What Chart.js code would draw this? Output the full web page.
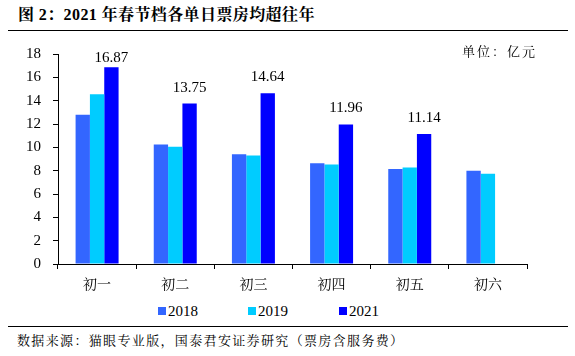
<!DOCTYPE html>
<html><head><meta charset="utf-8">
<script src="https://cdn.jsdelivr.net/npm/chart.js@4.4.1/dist/chart.umd.min.js"></script>
<style>
html,body{margin:0;padding:0;background:#fff;}
body{width:575px;height:356px;position:relative;overflow:hidden;font-family:'Liberation Serif','Noto Serif CJK SC',serif;color:#000;}
#title{position:absolute;left:18px;top:4px;font-size:16px;font-weight:bold;letter-spacing:0.4px;line-height:22px;white-space:nowrap;font-family:'Liberation Serif','Noto Serif CJK SC',serif;}
.hline{position:absolute;left:8px;width:560px;height:1px;background:#000;}
#unit{position:absolute;left:462px;top:42px;font-size:13px;letter-spacing:2px;line-height:18px;font-family:'Noto Serif CJK SC',serif;white-space:nowrap;}
#src{position:absolute;left:17px;top:331px;font-size:13px;letter-spacing:1.35px;line-height:18px;font-family:'Noto Serif CJK SC',serif;white-space:nowrap;}
#wrap{position:absolute;left:0;top:33px;width:575px;height:262px;}
.lg{position:absolute;top:302px;height:18px;line-height:18px;font-size:15px;white-space:nowrap;font-family:'Liberation Serif',serif;}
.lg i{position:absolute;left:0;top:5px;width:8px;height:8px;}
.lg span{position:absolute;left:10px;top:0;font-family:'Liberation Serif',serif;}
</style></head>
<body>
<div id="title">图 2：2021 年春节档各单日票房均超往年</div>
<div class="hline" style="top:30px"></div>
<div id="wrap"><canvas id="c"></canvas></div>
<div id="unit">单位：亿元</div>
<div id="legend"></div>
<div class="hline" style="top:326px"></div>
<div id="src">数据来源：猫眼专业版，国泰君安证券研究（票房含服务费）</div>
<script>
const categories = ["初一","初二","初三","初四","初五","初六"];
const seriesNames = ["2018","2019","2021"];
const v2018 = [12.80, 10.24, 9.41, 8.63, 8.14, 8.00];
const v2019 = [14.55, 10.06, 9.30, 8.52, 8.28, 7.74];
const v2021 = [16.87, 13.75, 14.64, 11.96, 11.14, null];
const yTicks = [0,2,4,6,8,10,12,14,16,18];
const colors = ["#3366FF","#00CCFF","#0000FF"];

const legendX = [158, 248, 339];
const lg = document.getElementById('legend');
seriesNames.forEach((n,i)=>{
  const d = document.createElement('div');
  d.className='lg'; d.style.left = legendX[i]+'px';
  d.innerHTML = '<i style="background:'+colors[i]+'"></i><span>'+n+'</span>';
  lg.appendChild(d);
});

const labelPlugin = {
  id:'vals',
  afterDatasetsDraw(chart){
    const ctx = chart.ctx;
    const meta = chart.getDatasetMeta(2);
    const ds = chart.data.datasets[2].data;
    ctx.save();
    ctx.font = "15px 'Liberation Serif', serif";
    ctx.fillStyle = '#000';
    ctx.textAlign = 'center';
    ctx.textBaseline = 'middle';
    meta.data.forEach((el,i)=>{
      if (ds[i] == null) return;
      const y = Math.max(el.y - 16, chart.chartArea.top + 4);
      ctx.fillText(ds[i].toFixed(2), el.x, y);
    });
    ctx.restore();
  }
};

function draw(){
new Chart(document.getElementById('c'), {
  type:'bar',
  data:{
    labels: categories,
    datasets:[
      {label:seriesNames[0], data:v2018, backgroundColor:colors[0]},
      {label:seriesNames[1], data:v2019, backgroundColor:colors[1]},
      {label:seriesNames[2], data:v2021, backgroundColor:colors[2]}
    ]
  },
  options:{
    responsive:true, maintainAspectRatio:false, animation:false,
    layout:{padding:{top:7,right:48,left:0,bottom:0}},
    datasets:{bar:{categoryPercentage:0.55, barPercentage:1.0}},
    plugins:{legend:{display:false}, tooltip:{enabled:false}},
    scales:{
      x:{
        grid:{display:true, drawOnChartArea:false, tickLength:5, color:'#000', offset:true},
        border:{display:true, color:'#000', width:1},
        ticks:{color:'#000', font:{family:"'Noto Serif CJK SC', serif", size:14}, padding:6, maxRotation:0},
        afterFit(s){ s.height = 31; }
      },
      y:{
        min:0, max:18,
        afterBuildTicks(s){ s.ticks = yTicks.map(v=>({value:v})); },
        grid:{display:true, drawOnChartArea:false, tickLength:5, color:'#000'},
        border:{display:true, color:'#000', width:1},
        ticks:{color:'#000', font:{family:"'Liberation Serif', serif", size:15}, padding:12},
        afterFit(s){ s.width = 58; }
      }
    }
  },
  plugins:[labelPlugin]
});
}
Promise.all([
  document.fonts.load("15px 'Liberation Serif'"),
  document.fonts.load("bold 16px 'Liberation Serif'"),
  document.fonts.load("14px 'Noto Serif CJK SC'", '初一二三四五六')
]).then(draw, draw);
</script>
</body></html>
